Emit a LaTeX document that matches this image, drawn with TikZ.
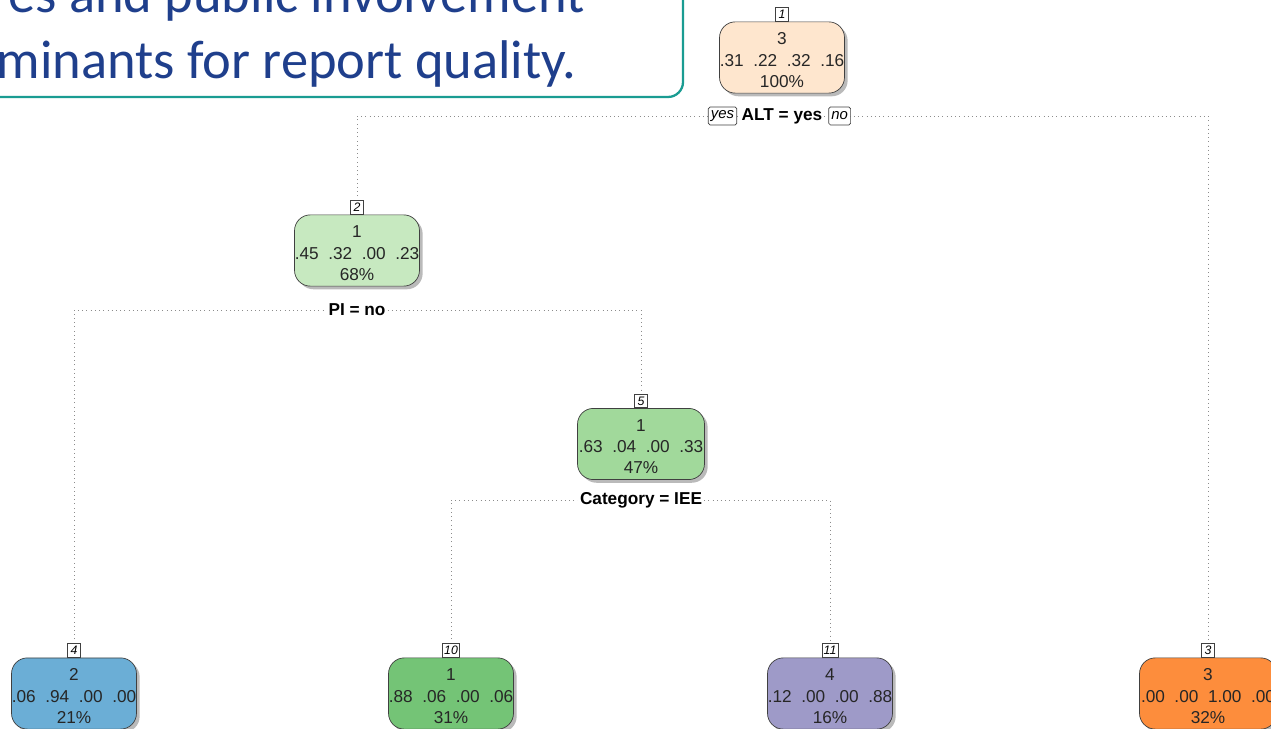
\documentclass[tikz,border=0pt]{standalone}
\usepackage{fontspec}
\setmainfont{Liberation Sans}
\newfontfamily\slidefont{Carlito}
\usetikzlibrary{positioning,shadows,backgrounds}

\definecolor{slideteal}{HTML}{1A9C92}
\definecolor{slideblue}{HTML}{1F3F8C}
\definecolor{boxline}{HTML}{404040}
\definecolor{fillA}{HTML}{FEE6CE}
\definecolor{fillB}{HTML}{C7E9C0}
\definecolor{fillC}{HTML}{A1D99B}
\definecolor{fillD}{HTML}{6BAED6}
\definecolor{fillE}{HTML}{74C476}
\definecolor{fillF}{HTML}{9E9AC8}
\definecolor{fillG}{HTML}{FD8D3C}

\tikzset{
	treenode/.style={draw=boxline, rounded corners=9pt, minimum width=2.5cm, minimum height=1.42cm,
		inner xsep=0pt, align=center, text=black!85, font=\fontsize{9.8}{12}\selectfont,
		drop shadow={shadow xshift=1.8pt, shadow yshift=-1.8pt, fill=black!45, opacity=.6}},
	numbox/.style={draw=boxline, fill=white, inner sep=1pt, minimum width=0.25cm, minimum height=0.27cm,
		font=\fontsize{7}{8}\selectfont\itshape},
	yesno/.style={draw=boxline, fill=white, rounded corners=1pt, inner sep=1.5pt, minimum height=0.36cm,
		font=\fontsize{8.5}{9}\selectfont\itshape},
	splitlab/.style={fill=white, inner sep=1pt, font=\fontsize{9.8}{11}\selectfont\bfseries},
	splitline/.style={draw=black!45, dotted, thin}
}

\newcommand{\probs}[4]{#1\ \ #2\ \ #3\ \ #4}
\newcommand{\topline}[1]{\rule{0pt}{9.8pt}#1}

\begin{document}
\begin{tikzpicture}[x=0.02cm, y=-0.02cm]
	\useasboundingbox (0,0) rectangle (1271,729);

	% slide text box, cut by the page edge
	\begin{scope}
		\clip (0,0) rectangle (1271,729);
		\draw[slideteal, line width=1.3pt, fill=white, rounded corners=0.3cm] (-60,-80) rectangle (683,97);
		\node[anchor=base east, inner sep=0, text=slideblue, font=\slidefont\fontsize{31}{36}\selectfont] (l1) at (585,13) {es and public involvement};
		\node[anchor=base east, inner sep=0, text=slideblue, font=\slidefont\fontsize{31}{36}\selectfont] (l2) at (577,79) {minants for report quality.};
	\end{scope}

	% tree nodes
	\node[treenode, fill=fillA] (n1) at (782,57.5) {\topline{3}\\\probs{.31}{.22}{.32}{.16}\\100\%};
	\node[treenode, fill=fillB] (n2) at (357,250.5) {\topline{1}\\\probs{.45}{.32}{.00}{.23}\\68\%};
	\node[treenode, fill=fillC, minimum width=2.54cm] (n5) at (641,444) {\topline{1}\\\probs{.63}{.04}{.00}{.33}\\47\%};
	\node[treenode, fill=fillD] (n4) at (74,693.5) {\topline{2}\\\probs{.06}{.94}{.00}{.00}\\21\%};
	\node[treenode, fill=fillE] (n10) at (451,693.5) {\topline{1}\\\probs{.88}{.06}{.00}{.06}\\31\%};
	\node[treenode, fill=fillF] (n11) at (830,693.5) {\topline{4}\\\probs{.12}{.00}{.00}{.88}\\16\%};
	\node[treenode, fill=fillG, minimum width=2.74cm] (n3) at (1208,693.5) {\topline{3}\\\probs{.00}{.00}{1.00}{.00}\\32\%};

	% node numbers
	\node[numbox, above=0pt of n1] (t1) {1};
	\node[numbox, above=0pt of n2] (t2) {2};
	\node[numbox, above=0pt of n5] (t5) {5};
	\node[numbox, above=0pt of n4] (t4) {4};
	\node[numbox, above=0pt of n10] (t10) {10};
	\node[numbox, above=0pt of n11] (t11) {11};
	\node[numbox, above=0pt of n3] (t3) {3};

	% split labels
	\node[splitlab] (s1) at (782,116) {ALT = yes};
	\node[yesno, left=0.05cm of s1] (yes) {yes};
	\node[yesno, right=0.08cm of s1] (no) {no};
	\node[splitlab] (s2) at (357,310) {PI = no};
	\node[splitlab] (s5) at (641,500) {Category = IEE};

	\begin{scope}[on background layer]
		\draw[splitline] (t2.north) |- (s1) -| (t3.north);
		\draw[splitline] (t4.north) |- (s2) -| (t5.north);
		\draw[splitline] (t10.north) |- (s5) -| (t11.north);
	\end{scope}
\end{tikzpicture}
\end{document}
